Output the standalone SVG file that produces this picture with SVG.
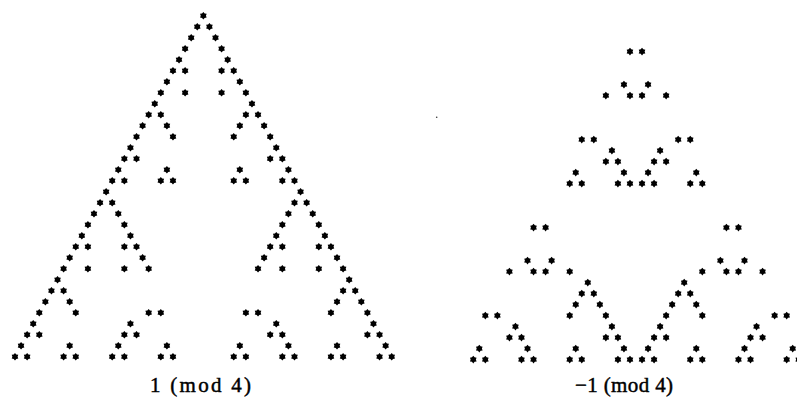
<svg xmlns="http://www.w3.org/2000/svg" width="797" height="403" viewBox="0 0 797 403">
<style>
.star{fill:#000}
.lbl{font-family:"Liberation Serif","Times New Roman",serif;font-size:21px;fill:#000;stroke:#000;stroke-width:0.45}
</style>
<defs>
<path id="star" class="star" d="M0,-3.8 L1.3,-2.25 L3.3,-1.9 L2.6,0 L3.3,1.9 L1.3,2.25 L0,3.8 L-1.3,2.25 L-3.3,1.9 L-2.6,0 L-3.3,-1.9 L-1.3,-2.25 Z"/>
<g id="sL" transform="scale(0.16458,0.090909)"><use href="#star"/></g>
<g id="sR" transform="scale(0.16592,0.090909)"><use href="#star"/></g>
</defs>
<rect width="797" height="403" fill="#fff"/>
<g id="left" transform="translate(203.35,15.7) scale(6.076,11)">
<use href="#sL" x="0" y="0"/>
<use href="#sL" x="-1" y="1"/><use href="#sL" x="1" y="1"/>
<use href="#sL" x="-2" y="2"/><use href="#sL" x="2" y="2"/>
<use href="#sL" x="-3" y="3"/><use href="#sL" x="3" y="3"/>
<use href="#sL" x="-4" y="4"/><use href="#sL" x="4" y="4"/>
<use href="#sL" x="-5" y="5"/><use href="#sL" x="-3" y="5"/><use href="#sL" x="3" y="5"/><use href="#sL" x="5" y="5"/>
<use href="#sL" x="-6" y="6"/><use href="#sL" x="6" y="6"/>
<use href="#sL" x="-7" y="7"/><use href="#sL" x="-3" y="7"/><use href="#sL" x="3" y="7"/><use href="#sL" x="7" y="7"/>
<use href="#sL" x="-8" y="8"/><use href="#sL" x="8" y="8"/>
<use href="#sL" x="-9" y="9"/><use href="#sL" x="-7" y="9"/><use href="#sL" x="7" y="9"/><use href="#sL" x="9" y="9"/>
<use href="#sL" x="-10" y="10"/><use href="#sL" x="-6" y="10"/><use href="#sL" x="6" y="10"/><use href="#sL" x="10" y="10"/>
<use href="#sL" x="-11" y="11"/><use href="#sL" x="-5" y="11"/><use href="#sL" x="5" y="11"/><use href="#sL" x="11" y="11"/>
<use href="#sL" x="-12" y="12"/><use href="#sL" x="12" y="12"/>
<use href="#sL" x="-13" y="13"/><use href="#sL" x="-11" y="13"/><use href="#sL" x="11" y="13"/><use href="#sL" x="13" y="13"/>
<use href="#sL" x="-14" y="14"/><use href="#sL" x="-6" y="14"/><use href="#sL" x="6" y="14"/><use href="#sL" x="14" y="14"/>
<use href="#sL" x="-15" y="15"/><use href="#sL" x="-13" y="15"/><use href="#sL" x="-7" y="15"/><use href="#sL" x="-5" y="15"/><use href="#sL" x="5" y="15"/><use href="#sL" x="7" y="15"/><use href="#sL" x="13" y="15"/><use href="#sL" x="15" y="15"/>
<use href="#sL" x="-16" y="16"/><use href="#sL" x="16" y="16"/>
<use href="#sL" x="-17" y="17"/><use href="#sL" x="-15" y="17"/><use href="#sL" x="15" y="17"/><use href="#sL" x="17" y="17"/>
<use href="#sL" x="-18" y="18"/><use href="#sL" x="-14" y="18"/><use href="#sL" x="14" y="18"/><use href="#sL" x="18" y="18"/>
<use href="#sL" x="-19" y="19"/><use href="#sL" x="-13" y="19"/><use href="#sL" x="13" y="19"/><use href="#sL" x="19" y="19"/>
<use href="#sL" x="-20" y="20"/><use href="#sL" x="-12" y="20"/><use href="#sL" x="12" y="20"/><use href="#sL" x="20" y="20"/>
<use href="#sL" x="-21" y="21"/><use href="#sL" x="-19" y="21"/><use href="#sL" x="-13" y="21"/><use href="#sL" x="-11" y="21"/><use href="#sL" x="11" y="21"/><use href="#sL" x="13" y="21"/><use href="#sL" x="19" y="21"/><use href="#sL" x="21" y="21"/>
<use href="#sL" x="-22" y="22"/><use href="#sL" x="-10" y="22"/><use href="#sL" x="10" y="22"/><use href="#sL" x="22" y="22"/>
<use href="#sL" x="-23" y="23"/><use href="#sL" x="-19" y="23"/><use href="#sL" x="-13" y="23"/><use href="#sL" x="-9" y="23"/><use href="#sL" x="9" y="23"/><use href="#sL" x="13" y="23"/><use href="#sL" x="19" y="23"/><use href="#sL" x="23" y="23"/>
<use href="#sL" x="-24" y="24"/><use href="#sL" x="24" y="24"/>
<use href="#sL" x="-25" y="25"/><use href="#sL" x="-23" y="25"/><use href="#sL" x="23" y="25"/><use href="#sL" x="25" y="25"/>
<use href="#sL" x="-26" y="26"/><use href="#sL" x="-22" y="26"/><use href="#sL" x="22" y="26"/><use href="#sL" x="26" y="26"/>
<use href="#sL" x="-27" y="27"/><use href="#sL" x="-21" y="27"/><use href="#sL" x="-9" y="27"/><use href="#sL" x="-7" y="27"/><use href="#sL" x="7" y="27"/><use href="#sL" x="9" y="27"/><use href="#sL" x="21" y="27"/><use href="#sL" x="27" y="27"/>
<use href="#sL" x="-28" y="28"/><use href="#sL" x="-12" y="28"/><use href="#sL" x="12" y="28"/><use href="#sL" x="28" y="28"/>
<use href="#sL" x="-29" y="29"/><use href="#sL" x="-27" y="29"/><use href="#sL" x="-13" y="29"/><use href="#sL" x="-11" y="29"/><use href="#sL" x="11" y="29"/><use href="#sL" x="13" y="29"/><use href="#sL" x="27" y="29"/><use href="#sL" x="29" y="29"/>
<use href="#sL" x="-30" y="30"/><use href="#sL" x="-22" y="30"/><use href="#sL" x="-14" y="30"/><use href="#sL" x="-6" y="30"/><use href="#sL" x="6" y="30"/><use href="#sL" x="14" y="30"/><use href="#sL" x="22" y="30"/><use href="#sL" x="30" y="30"/>
<use href="#sL" x="-31" y="31"/><use href="#sL" x="-29" y="31"/><use href="#sL" x="-23" y="31"/><use href="#sL" x="-21" y="31"/><use href="#sL" x="-15" y="31"/><use href="#sL" x="-13" y="31"/><use href="#sL" x="-7" y="31"/><use href="#sL" x="-5" y="31"/><use href="#sL" x="5" y="31"/><use href="#sL" x="7" y="31"/><use href="#sL" x="13" y="31"/><use href="#sL" x="15" y="31"/><use href="#sL" x="21" y="31"/><use href="#sL" x="23" y="31"/><use href="#sL" x="29" y="31"/><use href="#sL" x="31" y="31"/>
</g>
<g id="right" transform="translate(636,18.6) scale(6.027,11)">
<use href="#sR" x="-1" y="3"/><use href="#sR" x="1" y="3"/>
<use href="#sR" x="-2" y="6"/><use href="#sR" x="2" y="6"/>
<use href="#sR" x="-5" y="7"/><use href="#sR" x="-1" y="7"/><use href="#sR" x="1" y="7"/><use href="#sR" x="5" y="7"/>
<use href="#sR" x="-9" y="11"/><use href="#sR" x="-7" y="11"/><use href="#sR" x="7" y="11"/><use href="#sR" x="9" y="11"/>
<use href="#sR" x="-4" y="12"/><use href="#sR" x="4" y="12"/>
<use href="#sR" x="-5" y="13"/><use href="#sR" x="-3" y="13"/><use href="#sR" x="3" y="13"/><use href="#sR" x="5" y="13"/>
<use href="#sR" x="-10" y="14"/><use href="#sR" x="-2" y="14"/><use href="#sR" x="2" y="14"/><use href="#sR" x="10" y="14"/>
<use href="#sR" x="-11" y="15"/><use href="#sR" x="-9" y="15"/><use href="#sR" x="-3" y="15"/><use href="#sR" x="-1" y="15"/><use href="#sR" x="1" y="15"/><use href="#sR" x="3" y="15"/><use href="#sR" x="9" y="15"/><use href="#sR" x="11" y="15"/>
<use href="#sR" x="-17" y="19"/><use href="#sR" x="-15" y="19"/><use href="#sR" x="15" y="19"/><use href="#sR" x="17" y="19"/>
<use href="#sR" x="-18" y="22"/><use href="#sR" x="-14" y="22"/><use href="#sR" x="14" y="22"/><use href="#sR" x="18" y="22"/>
<use href="#sR" x="-21" y="23"/><use href="#sR" x="-17" y="23"/><use href="#sR" x="-15" y="23"/><use href="#sR" x="-11" y="23"/><use href="#sR" x="11" y="23"/><use href="#sR" x="15" y="23"/><use href="#sR" x="17" y="23"/><use href="#sR" x="21" y="23"/>
<use href="#sR" x="-8" y="24"/><use href="#sR" x="8" y="24"/>
<use href="#sR" x="-9" y="25"/><use href="#sR" x="-7" y="25"/><use href="#sR" x="7" y="25"/><use href="#sR" x="9" y="25"/>
<use href="#sR" x="-10" y="26"/><use href="#sR" x="-6" y="26"/><use href="#sR" x="6" y="26"/><use href="#sR" x="10" y="26"/>
<use href="#sR" x="-25" y="27"/><use href="#sR" x="-23" y="27"/><use href="#sR" x="-11" y="27"/><use href="#sR" x="-5" y="27"/><use href="#sR" x="5" y="27"/><use href="#sR" x="11" y="27"/><use href="#sR" x="23" y="27"/><use href="#sR" x="25" y="27"/>
<use href="#sR" x="-20" y="28"/><use href="#sR" x="-4" y="28"/><use href="#sR" x="4" y="28"/><use href="#sR" x="20" y="28"/>
<use href="#sR" x="-21" y="29"/><use href="#sR" x="-19" y="29"/><use href="#sR" x="-5" y="29"/><use href="#sR" x="-3" y="29"/><use href="#sR" x="3" y="29"/><use href="#sR" x="5" y="29"/><use href="#sR" x="19" y="29"/><use href="#sR" x="21" y="29"/>
<use href="#sR" x="-26" y="30"/><use href="#sR" x="-18" y="30"/><use href="#sR" x="-10" y="30"/><use href="#sR" x="-2" y="30"/><use href="#sR" x="2" y="30"/><use href="#sR" x="10" y="30"/><use href="#sR" x="18" y="30"/><use href="#sR" x="26" y="30"/>
<use href="#sR" x="-27" y="31"/><use href="#sR" x="-25" y="31"/><use href="#sR" x="-19" y="31"/><use href="#sR" x="-17" y="31"/><use href="#sR" x="-11" y="31"/><use href="#sR" x="-9" y="31"/><use href="#sR" x="-3" y="31"/><use href="#sR" x="-1" y="31"/><use href="#sR" x="1" y="31"/><use href="#sR" x="3" y="31"/><use href="#sR" x="9" y="31"/><use href="#sR" x="11" y="31"/><use href="#sR" x="17" y="31"/><use href="#sR" x="19" y="31"/><use href="#sR" x="25" y="31"/><use href="#sR" x="27" y="31"/>
</g>
<circle cx="436.7" cy="117.3" r="0.8" fill="#333"/>
<text class="lbl" x="150" y="392" textLength="101" lengthAdjust="spacing">1 (mod 4)</text>
<text class="lbl" x="575" y="392" textLength="98" lengthAdjust="spacing">−1 (mod 4)</text>
</svg>
